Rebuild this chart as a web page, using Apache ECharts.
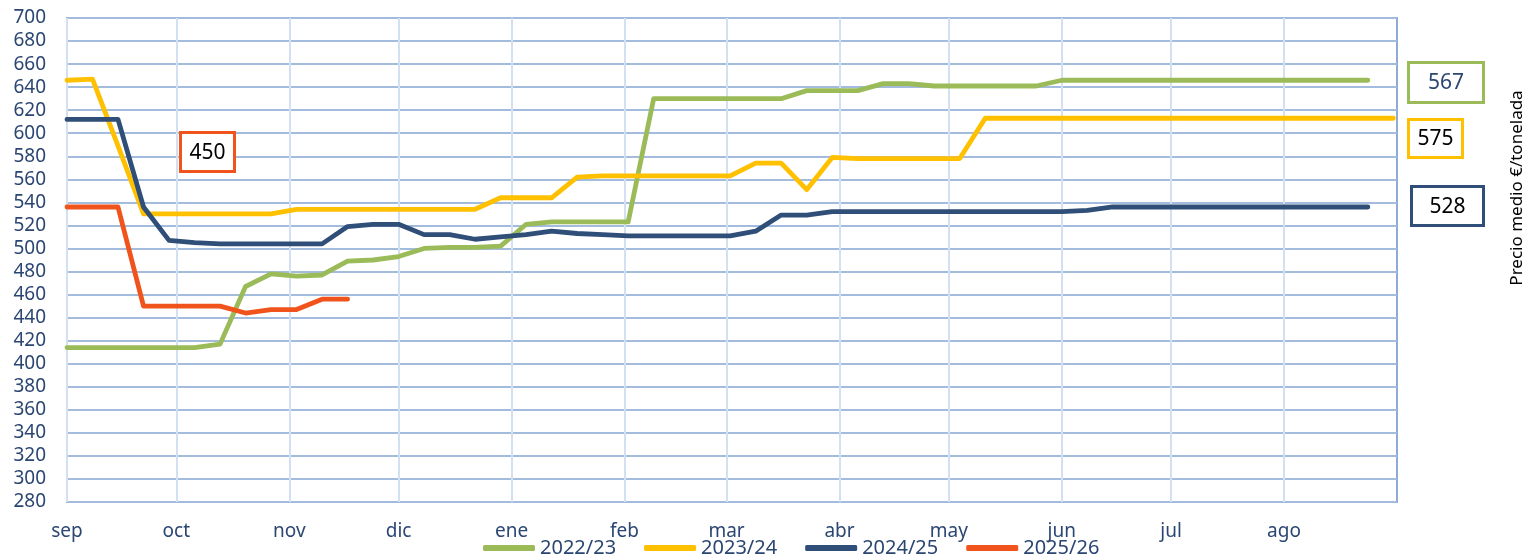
<!DOCTYPE html>
<html>
<head>
<meta charset="utf-8">
<script src="https://cdn.jsdelivr.net/npm/echarts@6/dist/echarts.min.js"></script>
<style>
    html, body { margin: 0; padding: 0; background: #fff; }
    #chart { width: 1534px; height: 558px; }
</style>
</head>
<body>
<div id="chart"></div>
<script type="text/javascript">
    // campañas, precio medio semanal (€/t), una entrada por semana desde el 1 de septiembre
    var seasons = ['2022/23', '2023/24', '2024/25', '2025/26'];
    var colors = ['#9bbb59', '#ffc000', '#2f4e78', '#f0541c'];

    var s2223 = [414, 414, 414, 414, 414, 414, 417, 467, 478, 476, 477, 489, 490, 493, 500, 501, 501, 502,
        521, 523, 523, 523, 523, 630, 630, 630, 630, 630, 630, 637, 637, 637, 643, 643, 641, 641, 641, 641, 641,
        646, 646, 646, 646, 646, 646, 646, 646, 646, 646, 646, 646, 646];
    var s2324 = [646, 647, 589, 530, 530, 530, 530, 530, 530, 534, 534, 534, 534, 534, 534, 534, 534, 544, 544, 544,
        562, 563, 563, 563, 563, 563, 563, 574, 574, 551, 579, 578, 578, 578, 578, 578,
        613, 613, 613, 613, 613, 613, 613, 613, 613, 613, 613, 613, 613, 613, 613, 613, 613];
    var s2425 = [612, 612, 612, 536, 507, 505, 504, 504, 504, 504, 504, 519, 521, 521, 512, 512, 508, 510, 512, 515,
        513, 512, 511, 511, 511, 511, 511, 515, 529, 529, 532, 532, 532, 532, 532, 532, 532, 532, 532, 532, 533,
        536, 536, 536, 536, 536, 536, 536, 536, 536, 536, 536];
    var s2526 = [536, 536, 536, 450, 450, 450, 450, 444, 447, 447, 456, 456];

    // eje x en días desde el 1 de septiembre
    var monthNames = ['sep', 'oct', 'nov', 'dic', 'ene', 'feb', 'mar', 'abr', 'may', 'jun', 'jul', 'ago'];
    var monthDays = [0, 30, 61, 91, 122, 153, 181, 212, 242, 273, 303, 334];

    var boxLabels = ['567', '575', '528'];
    var currentLabel = '450';

    var labelColor = '#2b4672';
    var font = 'Noto Sans';

    function weekly(arr) {
        var out = [];
        for (var i = 0; i < arr.length; i++) {
            out.push([i * 7, arr[i]]);
        }
        return out;
    }

    function box(x, y, w, h, color, text, textColor) {
        return {
            type: 'group',
            left: x,
            top: y,
            z: 50,
            children: [
                {
                    type: 'rect',
                    z: 50,
                    shape: {x: 1.5, y: 1.5, width: w - 3, height: h - 3},
                    style: {fill: '#fff', stroke: color, lineWidth: 3}
                },
                {
                    type: 'text',
                    z: 51,
                    x: w / 2,
                    y: h / 2 + 1,
                    style: {
                        text: text, fill: textColor, font: '21px "Noto Sans"',
                        align: 'center', verticalAlign: 'middle'
                    }
                }
            ]
        };
    }

    var myChart = echarts.init(document.getElementById('chart'));
    var allSeries = [s2223, s2324, s2425, s2526];
    var series = [];
    for (var k = 0; k < seasons.length; k++) {
        series.push({
            name: seasons[k],
            type: 'line',
            data: weekly(allSeries[k]),
            showSymbol: false,
            symbol: 'none',
            lineStyle: {color: colors[k], width: 4.8, cap: 'round', join: 'round'},
            itemStyle: {color: colors[k]},
            z: 3 + k
        });
    }

    var option = {
        animation: false,
        backgroundColor: '#fff',
        grid: {
            left: 67, right: 137, top: 18, bottom: 56,
            show: true, borderColor: '#8eaad6', borderWidth: 2
        },
        legend: {
            data: seasons,
            left: 478,
            top: 533,
            icon: 'roundRect',
            itemWidth: 52,
            itemHeight: 6,
            itemGap: 28,
            textStyle: {fontSize: 20, color: labelColor, fontFamily: font, padding: [8, 0, 0, 0]}
        },
        xAxis: {
            type: 'value',
            min: 0,
            max: 365,
            axisLine: {show: false},
            axisTick: {show: false, customValues: monthDays},
            axisLabel: {
                customValues: monthDays,
                margin: 20,
                fontSize: 19,
                fontFamily: font,
                color: labelColor,
                formatter: function (v) {
                    var i = monthDays.indexOf(v);
                    return i >= 0 ? monthNames[i] : '';
                }
            },
            splitLine: {show: true, lineStyle: {color: '#d3e0f2', width: 2}}
        },
        yAxis: {
            type: 'value',
            min: 280,
            max: 700,
            interval: 20,
            axisLine: {show: false},
            axisTick: {show: false},
            axisLabel: {margin: 21, fontSize: 19, fontFamily: font, color: labelColor},
            splitLine: {show: true, lineStyle: {color: '#a3bbdd', width: 2}}
        },
        graphic: [
            box(179, 131, 57, 42, colors[3], currentLabel, '#000'),
            box(1407, 61, 78, 43, colors[0], boxLabels[0], labelColor),
            box(1407, 118, 57, 41, colors[1], boxLabels[1], '#000'),
            box(1410, 185, 75, 42, colors[2], boxLabels[2], '#000'),
            {
                type: 'text',
                x: 1517,
                y: 188,
                rotation: Math.PI / 2,
                style: {
                    text: 'Precio medio €/tonelada', fill: '#000', font: '17px "Noto Sans"',
                    align: 'center', verticalAlign: 'middle'
                }
            }
        ],
        series: series
    };

    myChart.setOption(option);
    window.onresize = function () {
        myChart.resize();
    };
</script>
</body>
</html>
